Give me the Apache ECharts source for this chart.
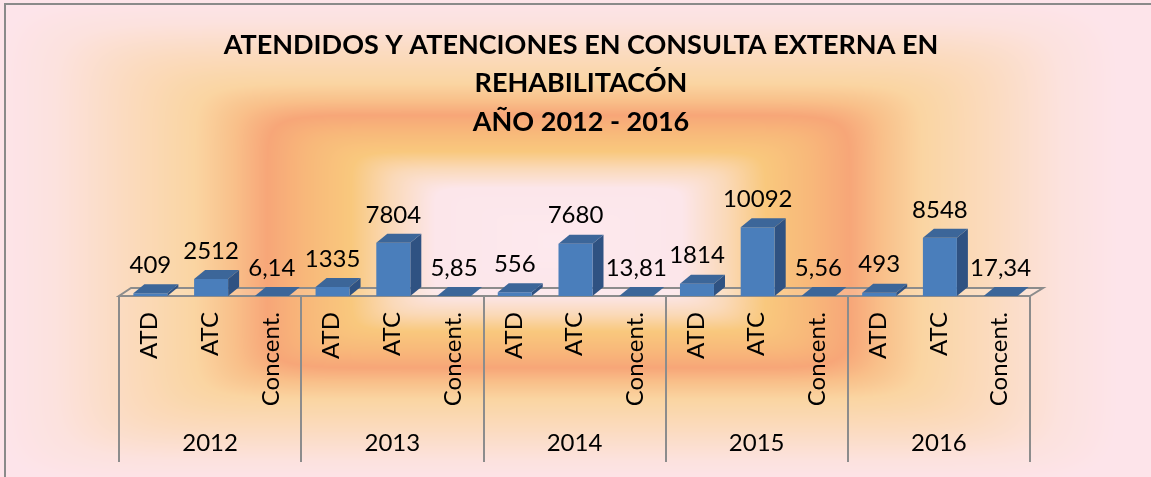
<!DOCTYPE html>
<html lang="es">
<head>
  <meta charset="UTF-8">
  <title>Atendidos y atenciones</title>
  <style>
    html, body { margin: 0; padding: 0; }
    #echart {
      width: 1151px;
      height: 477px;
      background-repeat: no-repeat;
    }
  </style>
</head>
<body>
  <div id="echart"></div>
  <script src="https://cdn.jsdelivr.net/npm/echarts@6/dist/echarts.min.js"></script>
  <script>
    // datos
    var years = ['2012', '2013', '2014', '2015', '2016'];
    var measures = ['ATD', 'ATC', 'Concent.'];
    var atd = [409, 1335, 556, 1814, 493];
    var atc = [2512, 7804, 7680, 10092, 8548];
    var concent = [6.14, 5.85, 13.81, 5.56, 17.34];
    var titulo = 'ATENDIDOS Y ATENCIONES EN CONSULTA EXTERNA EN\nREHABILITACÓN\nAÑO 2012 - 2016';

    var categories = [];
    var values = [];
    for (var i = 0; i < years.length; i++) {
      categories.push(measures[0], measures[1], measures[2]);
      values.push(atd[i], atc[i], concent[i]);
    }

    // fondo: degradado rectangular desde el centro
    function hex(c) {
      return [parseInt(c.substr(1, 2), 16), parseInt(c.substr(3, 2), 16), parseInt(c.substr(5, 2), 16)];
    }
    var stops = [
      [0, '#FDE9EE'], [0.22, '#FCE6EA'], [0.30, '#FAD9B8'], [0.37, '#F9C87D'], [0.45, '#F8B87A'],
      [0.52, '#F7A678'], [0.58, '#F9C08A'], [0.65, '#FAD5A2'], [0.78, '#FBDBC0'], [0.9, '#FCE2DE'], [1, '#FDE4EA']
    ].map(function (s) { return [s[0], hex(s[1])]; });

    function colorAt(r) {
      if (r >= 1) return stops[stops.length - 1][1];
      for (var k = 1; k < stops.length; k++) {
        if (r <= stops[k][0]) {
          var a = stops[k - 1], b = stops[k];
          var t = (r - a[0]) / (b[0] - a[0]);
          return [0, 1, 2].map(function (j) { return a[1][j] + (b[1][j] - a[1][j]) * t; });
        }
      }
      return stops[stops.length - 1][1];
    }

    var W = 1151, H = 477;
    var cv = document.createElement('canvas');
    cv.width = W; cv.height = H;
    var ctx = cv.getContext('2d');
    var img = ctx.createImageData(W, H);
    var cx = 558, cy = 241, ax = 560, ay = 243, p = 12;
    for (var y = 0; y < H; y++) {
      for (var x = 0; x < W; x++) {
        var r = Math.pow(Math.pow(Math.abs(x - cx) / ax, p) + Math.pow(Math.abs(y - cy) / ay, p), 1 / p);
        var c = colorAt(r);
        var o = (y * W + x) * 4;
        img.data[o] = c[0]; img.data[o + 1] = c[1]; img.data[o + 2] = c[2]; img.data[o + 3] = 255;
      }
    }
    ctx.putImageData(img, 0, 0);
    document.getElementById('echart').style.backgroundImage = 'url(' + cv.toDataURL() + ')';

    var FONT = 'Lato';
    var DX = 11, DY = 9;

    function fmt(v) {
      return String(v).replace('.', ',');
    }

    // barras 3D
    function renderBar(params, api) {
      var idx = api.value(0);
      var base = api.coord([idx, 0]);
      var top = api.coord([idx, api.value(1)]);
      var bw = api.size([1, 0])[0];
      var w = bw * 0.56;
      var x0 = base[0] - w / 2 + 1, x1 = x0 + w;
      var yb = base[1], yt = top[1];
      return {
        type: 'group',
        children: [
          {
            type: 'polygon',
            shape: { points: [[x1, yb], [x1, yt], [x1 + DX, yt - DY], [x1 + DX, yb - DY]] },
            style: { fill: '#2F5282' }
          },
          {
            type: 'rect',
            shape: { x: x0, y: yt, width: w, height: yb - yt },
            style: { fill: '#4A7EBB' }
          },
          {
            type: 'polygon',
            shape: { points: [[x0, yt], [x1, yt], [x1 + DX, yt - DY], [x0 + DX, yt - DY]] },
            style: { fill: '#3C6699' }
          },
          {
            type: 'text',
            style: {
              text: fmt(api.value(1)),
              x: (x0 + x1) / 2, y: yt - 28,
              align: 'center', verticalAlign: 'middle',
              fontSize: 24, fontFamily: FONT, fill: '#000'
            }
          }
        ]
      };
    }

    // piso
    function renderFloor(params, api) {
      var bw = api.size([1, 0])[0];
      var a = api.coord([0, 0]);
      var b = api.coord([categories.length - 1, 0]);
      var L = a[0] - bw / 2, R = b[0] + bw / 2, y0 = a[1];
      return {
        type: 'polygon',
        shape: { points: [[L, y0], [R, y0], [R + DX + 2, y0 - DY + 1], [L + DX + 1, y0 - DY + 1]] },
        style: { fill: 'rgba(255,255,255,0.15)', stroke: '#8C8C8C', lineWidth: 2 }
      };
    }

    var option = {
      backgroundColor: 'transparent',
      animation: false,
      graphic: [
        {
          type: 'rect',
          shape: { x: 5, y: 4, width: 1160, height: 490 },
          style: { fill: 'none', stroke: '#8A8A8A', lineWidth: 2 },
          silent: true
        },
        {
          type: 'text',
          x: 581,
          y: 26,
          silent: true,
          style: {
            text: titulo,
            align: 'center',
            verticalAlign: 'top',
            fontFamily: FONT,
            fontSize: 27,
            fontWeight: 'bold',
            lineHeight: 38.5,
            fill: '#000'
          }
        }
      ],
      grid: { left: 119, right: 121, top: 187, bottom: 181 },
      xAxis: [
        {
          type: 'category',
          data: categories,
          position: 'bottom',
          axisLine: { show: false },
          axisTick: { show: false },
          axisLabel: {
            rotate: 90,
            margin: 16,
            interval: 0,
            fontSize: 24,
            fontFamily: FONT,
            color: '#000'
          }
        },
        {
          type: 'category',
          data: years,
          position: 'bottom',
          axisLine: { show: false },
          axisTick: {
            show: true,
            length: 166,
            lineStyle: { color: '#8C8C8C', width: 2 }
          },
          axisLabel: {
            margin: 135,
            fontSize: 24,
            fontFamily: FONT,
            color: '#000'
          }
        }
      ],
      yAxis: {
        type: 'value',
        min: 0,
        max: 16000,
        show: false
      },
      series: [
        {
          type: 'custom',
          name: 'piso',
          silent: true,
          z: 1,
          renderItem: renderFloor,
          data: [[0, 0]]
        },
        {
          type: 'custom',
          name: 'valores',
          z: 2,
          renderItem: renderBar,
          encode: { x: 0, y: 1 },
          data: values.map(function (v, i) { return [i, v]; })
        }
      ]
    };

    var myChart = echarts.init(document.getElementById('echart'));
    myChart.setOption(option);
  </script>
</body>
</html>
